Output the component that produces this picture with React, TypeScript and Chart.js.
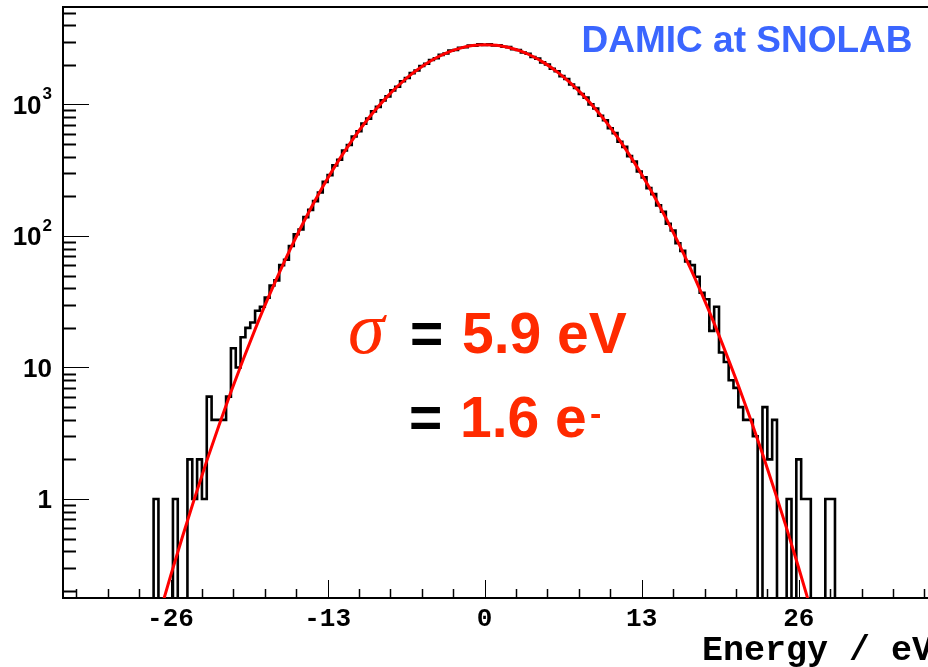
import React, { useEffect, useRef } from 'react';
import { Chart, registerables } from 'chart.js';

Chart.register(...registerables);

// Histogram: bins of 0.4 eV, first bin starts at -28.2 eV
const binLowEdge = -28.2;
const binWidth = 0.4;
const counts = [
  0, 0, 1, 0, 0, 0, 1, 0, 0, 2,
  1, 2, 1, 6, 4, 4, 4, 6, 14, 10,
  17, 20, 22, 27, 29, 34, 42, 46, 60, 66,
  84, 103, 112, 139, 158, 184, 214, 258, 290, 344,
  380, 447, 492, 571, 626, 715, 781, 886, 958, 1074,
  1152, 1281, 1363, 1502, 1588, 1731, 1812, 1961, 2040, 2180,
  2249, 2385, 2441, 2566, 2598, 2702, 2724, 2806, 2797, 2862,
  2836, 2868, 2812, 2821, 2745, 2730, 2632, 2597, 2482, 2430,
  2298, 2232, 2091, 2016, 1869, 1788, 1642, 1560, 1418, 1338,
  1201, 1127, 1001, 932, 820, 758, 660, 606, 521, 476,
  405, 368, 309, 279, 231, 208, 171, 153, 124, 110,
  88, 77, 64, 60, 49, 37, 33, 19, 29, 13,
  11, 8, 7, 5, 4, 4, 3, 0, 5, 2,
  4, 0, 0, 1, 0, 2, 1, 1, 0, 0,
  0, 1, 1, 0,
];

// Gaussian fit curve (red), read at 1 eV steps
const fitEnergies = [
  -27, -26, -25, -24, -23, -22, -21, -20, -19, -18, -17, -16, -15, -14, -13, -12, -11, -10, -9,
  -8, -7, -6, -5, -4, -3, -2, -1, 0, 1, 2, 3, 4, 5, 6, 7, 8, 9, 10, 11, 12, 13, 14, 15, 16, 17,
  18, 19, 20, 21, 22, 23, 24, 25, 26, 27,
];
const fitValues = [
  0.125, 0.259, 0.521, 1.02, 1.95, 3.61, 6.51, 11.4, 19.5, 32.5, 52.5, 82.6, 126.5, 188.5, 273.3,
  385.7, 529.4, 707.4, 919.5, 1163, 1431, 1714, 1998, 2265, 2499, 2683, 2803, 2850, 2819, 2713,
  2541, 2315, 2053, 1771, 1487, 1215, 966, 747, 562, 412, 293, 203.5, 137.3, 90.1, 57.6, 35.8,
  21.65, 12.7, 7.3, 4.07, 2.21, 1.16, 0.598, 0.299, 0.145,
];

const xTickLabels = [-26, -13, 0, 13, 26];
const xMinorStep = 2.6;
const yTickValues = [1, 10, 100, 1000];
const yTickBase = ['1', '10', '10', '10'];
const yTickExp = ['', '', '2', '3'];
const xRange = [-34.9, 36.7];
const yRange = [0.1767, 5510];
const EMPTY_BIN = 0.01;

const titleText = 'DAMIC at SNOLAB';
const xTitle = 'Energy / eV';

const overlay = {
  id: 'rootOverlay',
  afterDraw(chart: any) {
    const ctx = chart.ctx as CanvasRenderingContext2D;
    const { left, right, top, bottom } = chart.chartArea;
    const xs = chart.scales.x;
    const ys = chart.scales.y;
    ctx.save();
    ctx.strokeStyle = '#000';
    // top frame
    ctx.lineWidth = 2;
    ctx.beginPath();
    ctx.moveTo(left, top);
    ctx.lineTo(right, top);
    ctx.stroke();
    // y ticks (inside)
    for (let e = -1; e <= 4; e++) {
      for (let m = 1; m <= 9; m++) {
        const v = m * Math.pow(10, e);
        if (v < yRange[0] || v > yRange[1]) continue;
        const py = Math.round(ys.getPixelForValue(v)) + 0.5;
        ctx.lineWidth = m === 1 ? 1 : 2;
        ctx.beginPath();
        ctx.moveTo(left, py);
        ctx.lineTo(left + (m === 1 ? 26 : 13), py);
        ctx.stroke();
      }
    }
    // x ticks (inside)
    const i0 = Math.ceil(xRange[0] / xMinorStep);
    const i1 = Math.floor(xRange[1] / xMinorStep);
    for (let i = i0; i <= i1; i++) {
      const v = i * xMinorStep;
      const px = Math.round(xs.getPixelForValue(v)) + 0.5;
      const major = i % 5 === 0;
      ctx.lineWidth = major ? 1 : 1.5;
      ctx.beginPath();
      ctx.moveTo(px, bottom);
      ctx.lineTo(px, bottom - (major ? 18 : 9));
      ctx.stroke();
    }
    // y tick labels with superscript exponents
    ctx.fillStyle = '#000';
    ctx.textBaseline = 'middle';
    yTickValues.forEach((v, i) => {
      const py = ys.getPixelForValue(v);
      const exp = yTickExp[i];
      let xr = left - 11;
      if (exp) {
        ctx.font = 'bold 17px "Liberation Sans"';
        ctx.textAlign = 'right';
        ctx.fillText(exp, xr, py - 10);
        xr -= ctx.measureText(exp).width + 1;
      }
      ctx.font = 'bold 26px "Liberation Sans"';
      ctx.textAlign = 'right';
      ctx.fillText(yTickBase[i], xr, py + 2);
    });
    // title
    ctx.textBaseline = 'alphabetic';
    ctx.fillStyle = '#3b66ff';
    ctx.font = 'bold 37px "Liberation Sans"';
    ctx.textAlign = 'center';
    ctx.fillText(titleText, 747, 52);
    // x axis title
    ctx.fillStyle = '#000';
    ctx.font = 'bold 35px "Liberation Mono"';
    ctx.textAlign = 'right';
    ctx.fillText(xTitle, 933, 660);
    // sigma annotation
    ctx.textAlign = 'left';
    const red = '#ff2a00';
    ctx.fillStyle = red;
    ctx.font = 'italic 74px "Liberation Serif"';
    ctx.fillText('σ', 348, 353);
    ctx.fillStyle = '#000';
    ctx.font = 'bold 57px "Liberation Sans"';
    ctx.fillText('=', 410, 353);
    ctx.fillStyle = red;
    ctx.fillText('5.9 eV', 462, 353);
    ctx.fillStyle = '#000';
    ctx.fillText('=', 409, 437);
    ctx.fillStyle = red;
    ctx.fillText('1.6 e', 460, 437);
    ctx.font = 'bold 34px "Liberation Sans"';
    ctx.fillText('-', 590, 425);
    ctx.restore();
  },
};

export default function App() {
  const ref = useRef<HTMLCanvasElement | null>(null);
  useEffect(() => {
    if (!ref.current) return;
    const histPoints: { x: number; y: number }[] = counts.map((c, i) => ({
      x: binLowEdge + i * binWidth,
      y: c > 0 ? c : EMPTY_BIN,
    }));
    const last = counts[counts.length - 1];
    histPoints.push({ x: binLowEdge + counts.length * binWidth, y: last > 0 ? last : EMPTY_BIN });
    const fitPoints = fitEnergies.map((e, i) => ({ x: e, y: fitValues[i] }));

    const chart = new Chart(ref.current, {
      type: 'line',
      data: {
        datasets: [
          {
            label: 'fit',
            data: fitPoints,
            borderColor: '#ff0000',
            borderWidth: 3,
            pointRadius: 0,
            cubicInterpolationMode: 'monotone',
            clip: 0,
            order: 0,
          } as any,
          {
            label: 'data',
            data: histPoints,
            borderColor: '#000000',
            borderWidth: 2.6,
            pointRadius: 0,
            stepped: 'before',
            clip: 0,
            order: 1,
          } as any,
        ],
      },
      options: {
        animation: false,
        responsive: false,
        devicePixelRatio: 1,
        layout: { padding: { top: 7, right: 0, left: 0, bottom: 0 } },
        plugins: { legend: { display: false }, tooltip: { enabled: false }, title: { display: false } },
        scales: {
          x: {
            type: 'linear',
            min: xRange[0],
            max: xRange[1],
            grid: { display: false, drawTicks: false },
            border: { display: true, color: '#000', width: 2 },
            afterBuildTicks: (scale: any) => {
              scale.ticks = xTickLabels.map((v) => ({ value: v }));
            },
            afterFit: (scale: any) => {
              scale.height = 69;
              scale.paddingLeft = 0;
              scale.paddingRight = 0;
            },
            ticks: {
              autoSkip: false,
              maxRotation: 0,
              padding: 6,
              color: '#000',
              font: { family: 'Liberation Mono', size: 26, weight: 'bold' },
              callback: (v: any) => String(v),
            },
          },
          y: {
            type: 'logarithmic',
            min: yRange[0],
            max: yRange[1],
            grid: { display: false, drawTicks: false },
            border: { display: true, color: '#000', width: 2 },
            afterBuildTicks: (scale: any) => {
              scale.ticks = yTickValues.map((v) => ({ value: v }));
            },
            afterFit: (scale: any) => {
              scale.width = 63;
              scale.paddingTop = 0;
              scale.paddingBottom = 0;
            },
            ticks: {
              display: false,
            },
          },
        },
      } as any,
      plugins: [overlay],
    });
    return () => chart.destroy();
  }, []);
  return (
    <div style={{ position: 'fixed', left: 0, top: 0, width: 928, height: 667, background: '#fff' }}>
      <canvas ref={ref} width={928} height={667} style={{ display: 'block', width: 928, height: 667 }} />
    </div>
  );
}
